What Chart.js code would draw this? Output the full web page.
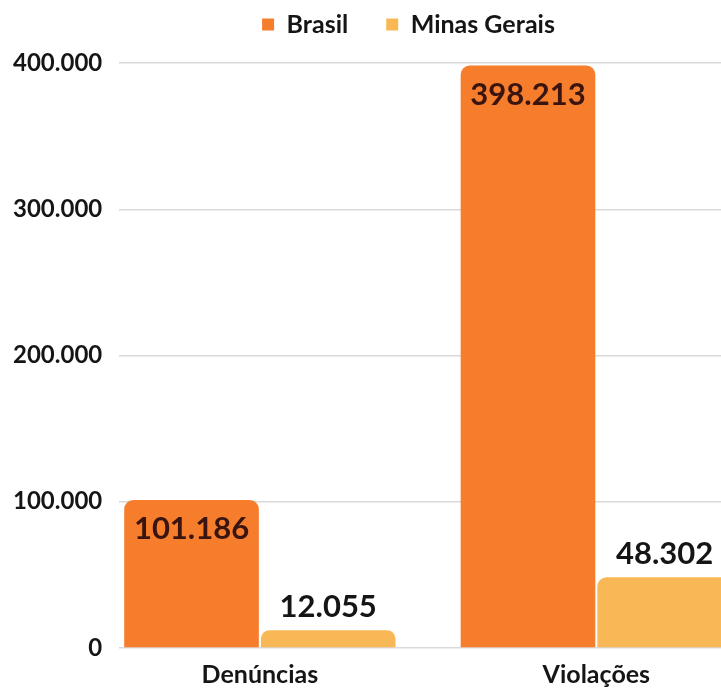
<!DOCTYPE html>
<html>
<head>
<meta charset="utf-8">
<script src="https://cdn.jsdelivr.net/npm/chart.js@4"></script>
<style>
  html, body { margin: 0; padding: 0; background: #ffffff; overflow: hidden; }
  #wrap { width: 721px; height: 688px; position: relative; }
</style>
</head>
<body>
<div id="wrap"><canvas id="bars"></canvas></div>
<script>
var categories = ['Denúncias', 'Violações'];
var seriesNames = ['Brasil', 'Minas Gerais'];
var brasil = [101186, 398213];
var minasGerais = [12055, 48302];
var yTicks = [0, 100000, 200000, 300000, 400000];

var orange = '#f67d2c';
var yellow = '#f9b856';

function fmt(v) {
    return String(v).replace(/\B(?=(\d{3})+(?!\d))/g, '.');
}

// values on the bars (inside for Brasil, above for Minas Gerais)
var barLabels = {
    id: 'barLabels',
    afterDatasetsDraw(chart) {
        var ctx = chart.ctx;
        ctx.save();
        ctx.font = 'bold 31px Lato';
        ctx.textAlign = 'center';
        ctx.textBaseline = 'middle';
        chart.data.datasets.forEach(function(ds, di) {
            var meta = chart.getDatasetMeta(di);
            meta.data.forEach(function(bar, i) {
                var v = ds.data[i].y;
                if (di == 0) {
                    ctx.fillStyle = '#3a1510';
                    ctx.fillText(fmt(v), bar.x, bar.y + 29);
                } else {
                    ctx.fillStyle = '#151515';
                    ctx.fillText(fmt(v), bar.x, bar.y - 23);
                }
            });
        });
        ctx.restore();
    }
};

// move the legend a bit to the right and up, like in the original picture
var legendShift = {
    id: 'legendShift',
    afterLayout(chart) {
        var lg = chart.legend;
        lg.left += 50;
        lg.right += 50;
        lg.top -= 26;
        lg.bottom -= 26;
    }
};

var data = {
    datasets: [{
        label: seriesNames[0],
        data: brasil.map((v, i) => ({x: i, y: v})),
        backgroundColor: orange,
        borderRadius: 9,
        categoryPercentage: 0.8125,
        barPercentage: 0.985
    }, {
        label: seriesNames[1],
        data: minasGerais.map((v, i) => ({x: i, y: v})),
        backgroundColor: yellow,
        borderRadius: 9,
        categoryPercentage: 0.8125,
        barPercentage: 0.985
    }]
};

var config = {
    type: 'bar',
    data: data,
    options: {
        responsive: true,
        maintainAspectRatio: false,
        animation: false,
        layout: {
            padding: {top: 0, left: -4, right: 0, bottom: -14}
        },
        plugins: {
            tooltip: {enabled: false},
            legend: {
                position: 'top',
                maxHeight: 63,
                labels: {
                    boxWidth: 12,
                    boxHeight: 12,
                    padding: 38,
                    color: '#151515',
                    font: {family: 'Lato', size: 25, weight: 'bold'}
                }
            }
        },
        scales: {
            x: {
                type: 'linear',
                offset: false,
                min: -0.418,
                max: 1.3705,
                afterBuildTicks: function(scale) {
                    scale.ticks = categories.map((c, i) => ({value: i}));
                },
                grid: {display: false, drawTicks: false},
                border: {display: false},
                ticks: {
                    padding: 12,
                    color: '#151515',
                    font: {family: 'Lato', size: 25, weight: 'bold'},
                    callback: function(v) { return categories[v]; }
                }
            },
            y: {
                min: 0,
                max: 400000,
                afterBuildTicks: function(scale) {
                    scale.ticks = yTicks.map(v => ({value: v}));
                },
                grid: {color: '#d9d9d9', lineWidth: 1.5, drawTicks: false},
                border: {display: false},
                ticks: {
                    padding: 17,
                    color: '#151515',
                    font: {family: 'Lato', size: 24, weight: 'bold'},
                    callback: function(v) { return fmt(v); }
                }
            }
        }
    },
    plugins: [barLabels, legendShift]
};

var chart = new Chart(document.getElementById('bars'), config);
</script>
</body>
</html>
